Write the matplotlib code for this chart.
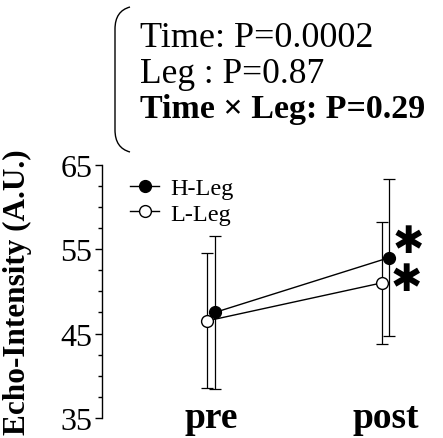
import matplotlib
matplotlib.use('Agg')
import matplotlib.pyplot as plt
from matplotlib.path import Path
from matplotlib.patches import PathPatch

plt.rcParams['font.family'] = ['Liberation Serif', 'DejaVu Serif']

# data
times = ['pre', 'post']
h_mean = [47.5, 54.0]
h_sd = [9.1, 9.3]
l_mean = [46.5, 51.0]
l_sd = [8.0, 7.2]
stats_lines = ['Time: P=0.0002', 'Leg : P=0.87', 'Time \u00d7 Leg: P=0.29']

W, H = 443, 439
fig = plt.figure(figsize=(W / 100, H / 100), dpi=100)


def fx(px):
    return px / W


def fy(py):
    return 1 - py / H


ax = fig.add_axes([fx(102), fy(419), fx(443 - 102), (419 - 165.7) / H])

x = list(range(len(times)))
off = 0.022
xh = [i + off for i in x]
xl = [i - off for i in x]

ax.errorbar(xh, h_mean, yerr=h_sd, fmt='none', ecolor='black',
            elinewidth=0.9, capsize=4, capthick=0.9, zorder=1)
ax.errorbar(xl, l_mean, yerr=l_sd, fmt='none', ecolor='black',
            elinewidth=0.9, capsize=4, capthick=0.9, zorder=1)
ax.plot(xh, h_mean, '-o', color='black', lw=1, ms=8.5,
        mfc='black', mec='black', mew=1, label='H-Leg', zorder=3)
ax.plot(xl, l_mean, '-o', color='black', lw=1, ms=8.5,
        mfc='white', mec='black', mew=1, label='L-Leg', zorder=4)

# significance marks at post
star = '\u2731'
ax.annotate(star, xy=(1, h_mean[1]), xytext=(16.2, 11), textcoords='offset points',
            ha='center', va='center', fontsize=27, family='DejaVu Sans')
ax.annotate(star, xy=(1, l_mean[1]), xytext=(14.8, 1.8), textcoords='offset points',
            ha='center', va='center', fontsize=27, family='DejaVu Sans')

ax.set_xlim(-0.6246, 1.3295)
ax.set_ylim(35, 65)
ax.set_yticks([35, 45, 55, 65])
ax.set_yticks([37.5, 40, 42.5, 47.5, 50, 52.5, 57.5, 60, 62.5], minor=True)
ax.tick_params(axis='y', which='major', length=5, width=1, labelsize=23, pad=2)
ax.tick_params(axis='y', which='minor', length=3, width=1)
ax.set_xticks(x)
ax.set_xticklabels(times, fontsize=27, fontweight='bold')
ax.tick_params(axis='x', length=0, pad=-13)

for s in ['top', 'right', 'bottom']:
    ax.spines[s].set_visible(False)
ax.spines['left'].set_linewidth(1)

ax.set_ylabel('Echo-Intensity (A.U.)', fontsize=22.5, fontweight='bold', va='center')
ax.yaxis.set_label_coords(-0.248, 0.5)

ax.legend(loc='upper left', bbox_to_anchor=(fx(130), fy(178)),
          bbox_transform=fig.transFigure, frameon=False, fontsize=17.5,
          handlelength=1.2, handletextpad=0.45, labelspacing=0.15,
          borderpad=0, borderaxespad=0, markerscale=1.0)

# bracket around the stats
verts = [(130, 8), (115, 12), (115, 30), (115, 131), (115, 149), (130, 153)]
codes = [Path.MOVETO, Path.CURVE3, Path.CURVE3, Path.LINETO, Path.CURVE3, Path.CURVE3]
bracket = Path([(fx(a), fy(b)) for a, b in verts], codes)
fig.patches.append(PathPatch(bracket, fill=False, lw=1, color='black',
                             transform=fig.transFigure))

baselines = [46.7, 82.7, 118]
sizes = [26, 25.5, 24.5]
for i, (txt, b) in enumerate(zip(stats_lines, baselines)):
    fig.text(fx(140), fy(b), txt, fontsize=sizes[i], va='baseline', ha='left',
             fontweight='bold' if i == 2 else 'normal')

fig.savefig('out.png', dpi=100)
